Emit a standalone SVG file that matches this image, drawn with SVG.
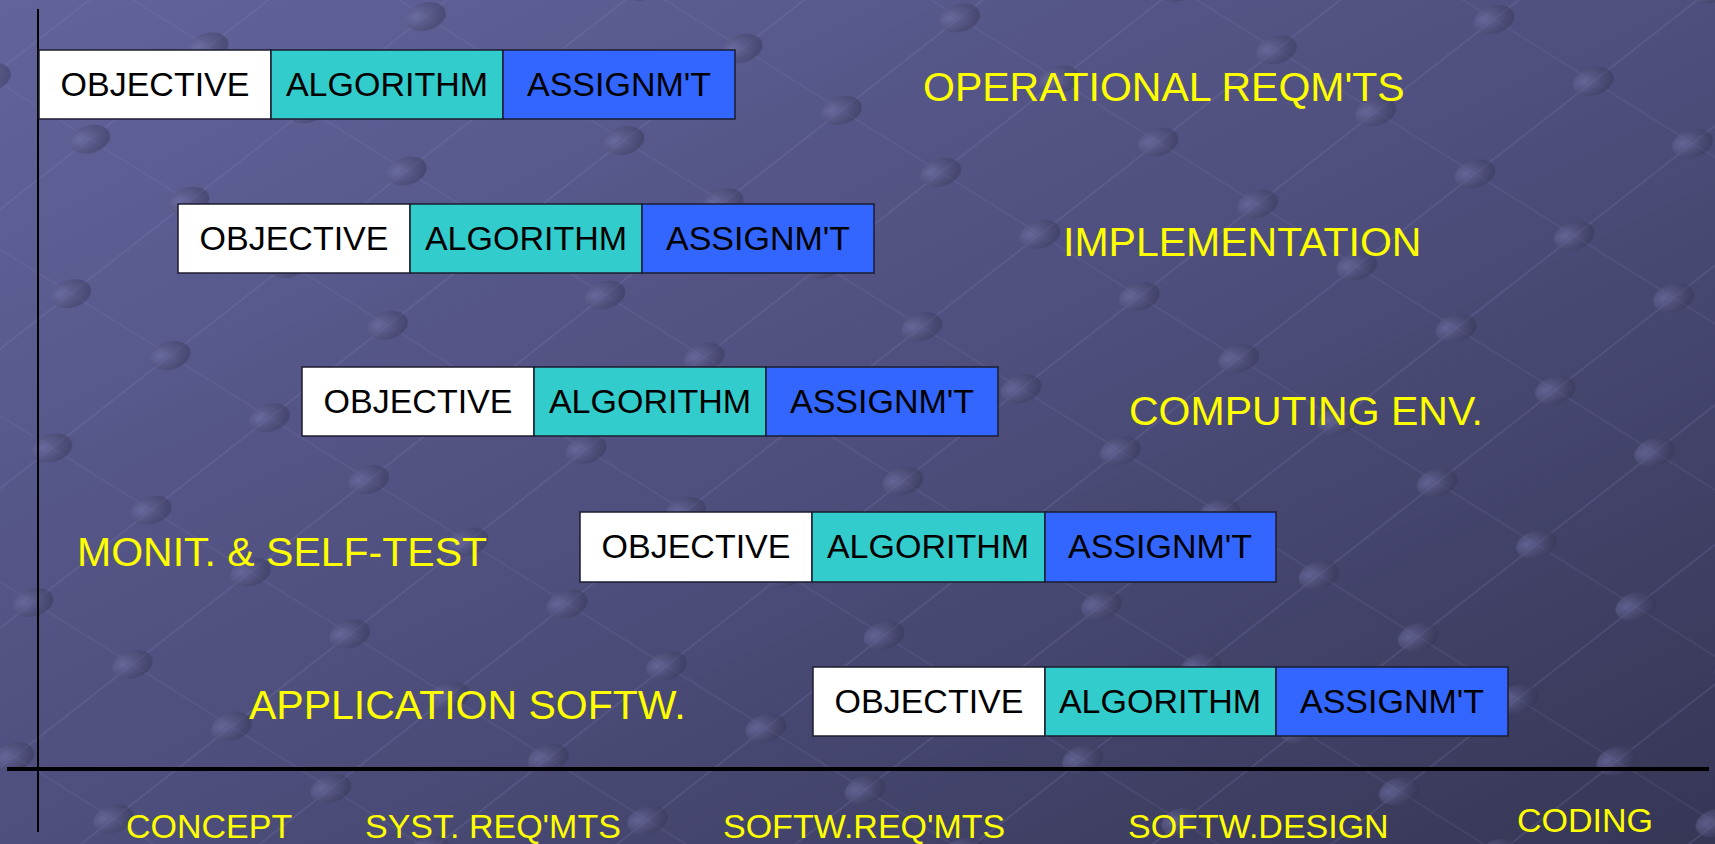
<svg xmlns="http://www.w3.org/2000/svg" width="1715" height="844" viewBox="0 0 1715 844">
<defs>
<linearGradient id="bg" x1="0" y1="0" x2="1" y2="1">
<stop offset="0" stop-color="#62639b"/>
<stop offset="0.5" stop-color="#4e4f7d"/>
<stop offset="1" stop-color="#363655"/>
</linearGradient>
<radialGradient id="sph" cx="0.35" cy="0.3" r="0.8">
<stop offset="0" stop-color="#7677ad" stop-opacity="0.6"/>
<stop offset="1" stop-color="#2e2e4a" stop-opacity="0.45"/>
</radialGradient>
<pattern id="grid" width="150" height="110" patternUnits="userSpaceOnUse" patternTransform="rotate(-38) skewX(20)">
<line x1="0" y1="55" x2="150" y2="55" stroke="#8a8bc0" stroke-opacity="0.18" stroke-width="2"/>
<line x1="75" y1="0" x2="75" y2="110" stroke="#8a8bc0" stroke-opacity="0.12" stroke-width="2"/>
<ellipse cx="75" cy="55" rx="19" ry="15" fill="url(#sph)"/>
</pattern>
<style>
.cell{stroke:#1c1c30;stroke-width:1.5}
.obj{fill:#ffffff}
.alg{fill:#33cccc}
.asg{fill:#3366ff}
.bt{font-family:"Liberation Sans",Arial,sans-serif;font-size:34px;fill:#000;text-anchor:middle}
.yl{font-family:"Liberation Sans",Arial,sans-serif;font-size:41px;fill:#ffff00}
.ax{font-family:"Liberation Sans",Arial,sans-serif;font-size:34px;fill:#ffff00}
.axis{stroke:#000;fill:none}
</style>
</defs>
<rect width="1715" height="844" fill="url(#bg)"/>
<rect width="1715" height="844" fill="url(#grid)"/>

<g id="axes">
<line class="axis" x1="38" y1="9" x2="38" y2="832" stroke-width="2"/>
<line class="axis" x1="7" y1="769" x2="1709" y2="769" stroke-width="4"/>
</g>

<g id="row1">
<rect class="cell obj" x="39" y="50" width="232" height="69"/>
<rect class="cell alg" x="271" y="50" width="232" height="69"/>
<rect class="cell asg" x="503" y="50" width="232" height="69"/>
<text class="bt" x="155" y="96">OBJECTIVE</text>
<text class="bt" x="387" y="96">ALGORITHM</text>
<text class="bt" x="619" y="96">ASSIGNM'T</text>
</g>
<g id="row2">
<rect class="cell obj" x="178" y="204" width="232" height="69"/>
<rect class="cell alg" x="410" y="204" width="232" height="69"/>
<rect class="cell asg" x="642" y="204" width="232" height="69"/>
<text class="bt" x="294" y="250">OBJECTIVE</text>
<text class="bt" x="526" y="250">ALGORITHM</text>
<text class="bt" x="758" y="250">ASSIGNM'T</text>
</g>
<g id="row3">
<rect class="cell obj" x="302" y="367" width="232" height="69"/>
<rect class="cell alg" x="534" y="367" width="232" height="69"/>
<rect class="cell asg" x="766" y="367" width="232" height="69"/>
<text class="bt" x="418" y="413">OBJECTIVE</text>
<text class="bt" x="650" y="413">ALGORITHM</text>
<text class="bt" x="882" y="413">ASSIGNM'T</text>
</g>
<g id="row4">
<rect class="cell obj" x="580" y="512" width="232" height="70"/>
<rect class="cell alg" x="812" y="512" width="233" height="70"/>
<rect class="cell asg" x="1045" y="512" width="231" height="70"/>
<text class="bt" x="696" y="558">OBJECTIVE</text>
<text class="bt" x="928" y="558">ALGORITHM</text>
<text class="bt" x="1160" y="558">ASSIGNM'T</text>
</g>
<g id="row5">
<rect class="cell obj" x="813" y="667" width="232" height="69"/>
<rect class="cell alg" x="1045" y="667" width="231" height="69"/>
<rect class="cell asg" x="1276" y="667" width="232" height="69"/>
<text class="bt" x="929" y="713">OBJECTIVE</text>
<text class="bt" x="1160" y="713">ALGORITHM</text>
<text class="bt" x="1392" y="713">ASSIGNM'T</text>
</g>

<g id="labels">
<text class="yl" x="923" y="101">OPERATIONAL REQM'TS</text>
<text class="yl" x="1063" y="256">IMPLEMENTATION</text>
<text class="yl" x="1129" y="425">COMPUTING ENV.</text>
<text class="yl" x="77" y="566">MONIT. &amp; SELF-TEST</text>
<text class="yl" x="249" y="719">APPLICATION SOFTW.</text>
</g>

<g id="phases">
<text class="ax" x="126" y="838">CONCEPT</text>
<text class="ax" x="365" y="838">SYST. REQ'MTS</text>
<text class="ax" x="723" y="838">SOFTW.REQ'MTS</text>
<text class="ax" x="1128" y="838">SOFTW.DESIGN</text>
<text class="ax" x="1517" y="832">CODING</text>
</g>
</svg>
